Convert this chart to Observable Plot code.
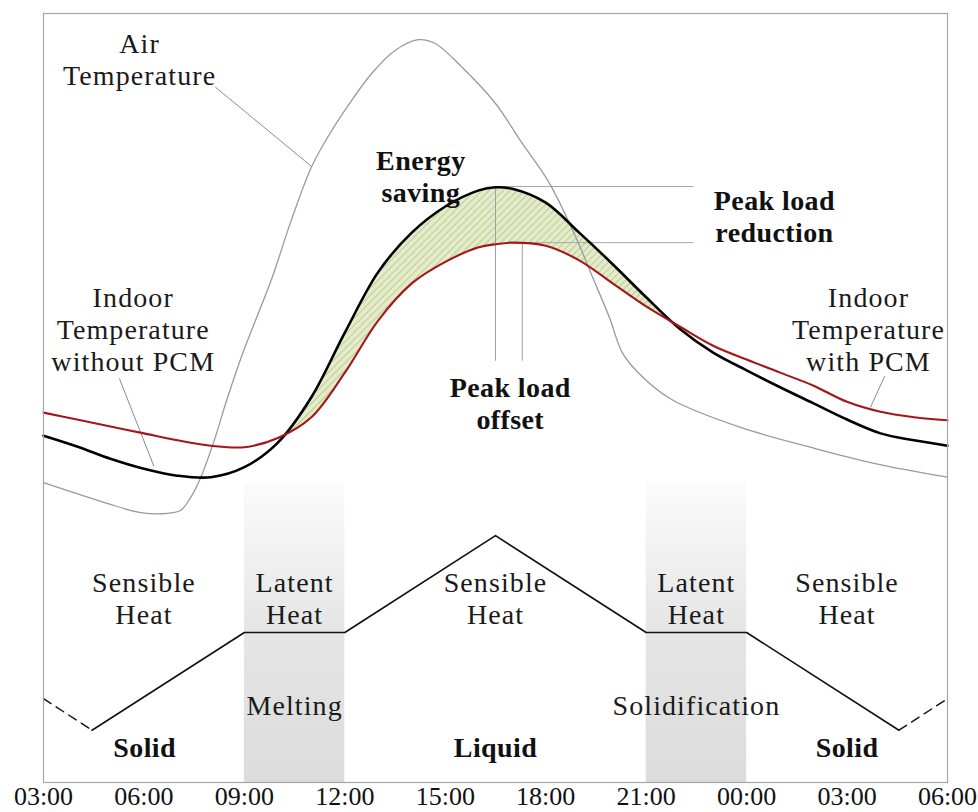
<!DOCTYPE html>
<html>
<head>
<meta charset="utf-8">
<script src="https://cdn.jsdelivr.net/npm/d3@7"></script>
<script src="https://cdn.jsdelivr.net/npm/@observablehq/plot@0.6"></script>
<style>
  body { margin: 0; background: #ffffff; }
  #chart { width: 978px; height: 812px; }
</style>
</head>
<body>
<div id="chart"></div>
<script>
// ---------- data (hours counted from 00:00 of day 1; values in relative units 0-100) ----------
const tickHours  = [3, 6, 9, 12, 15, 18, 21, 24, 27, 30];
const tickLabels = ["03:00","06:00","09:00","12:00","15:00","18:00","21:00","00:00","03:00","06:00"];

// Air temperature (thin grey)
const airHours = [3.0, 3.9, 4.9, 5.9, 6.7, 7.1, 7.4, 7.7, 8.1, 8.5, 9.0, 9.8, 10.4, 11.0, 11.5, 12.0, 12.8, 13.5, 14.2, 14.7, 15.5, 16.5, 17.3, 18.1, 18.9, 19.4, 19.9, 20.3, 20.9, 21.8, 23.8, 25.9, 27.8, 30.0];
const airTemp  = [39.0, 37.7, 36.3, 35.1, 35.0, 35.4, 37.1, 39.7, 44.5, 50.1, 56.4, 65.3, 73.1, 80.0, 84.0, 87.4, 92.2, 95.2, 96.6, 96.1, 93.0, 88.3, 83.1, 78.0, 70.9, 65.7, 60.5, 55.8, 52.7, 49.7, 46.2, 43.6, 41.5, 39.7];

// Indoor temperatures
const indoorHours = [3, 4, 5, 6, 7, 8, 9, 10, 11, 12, 13, 14, 15, 16, 16.5, 17, 18, 19, 20, 21, 22, 23, 24, 25, 26, 27, 28, 29, 30];
const withoutPCM  = [45.1, 43.7, 42.1, 40.8, 39.9, 39.7, 41.0, 44.2, 50.1, 58.5, 66.4, 71.5, 74.9, 77.0, 77.4, 77.2, 75.4, 71.5, 67.4, 63.1, 59.0, 55.9, 53.6, 51.4, 49.3, 47.2, 45.4, 44.5, 43.8];
const withPCM     = [48.1, 47.2, 46.3, 45.4, 44.5, 43.8, 43.6, 44.8, 47.5, 53.3, 60.1, 64.9, 67.7, 69.6, 70.0, 70.2, 69.8, 67.9, 64.9, 61.9, 59.3, 56.8, 55.0, 53.3, 51.6, 49.5, 48.2, 47.5, 47.1];
const savingFrom = 10.19, savingTo = 21.8;   // hours where the two indoor curves cross

// PCM phase state line
const phaseHours = [3, 4.45, 9, 12, 16.5, 21, 24, 28.55, 30];
const phaseLevel = [10.9, 6.8, 19.5, 19.5, 32.1, 19.5, 19.5, 6.8, 10.9];

// Latent heat bands
const bandFrom = [9, 21];
const bandTo   = [12, 24];
const bandTop  = 38.9;

// Peak markers
const peakNoPCM = {hour: 16.5, value: 77.5};
const peakPCM   = {hour: 17.3, value: 70.2};
const peakLineEnd = 22.4;
const offsetLineBottom = 54.9;

// Leader lines [hour1, value1, hour2, value2]
const leaderAir     = [8.14, 90.4, 11.01, 80.1];
const leaderWithout = [5.27, 52.5, 6.29, 41.2];
const leaderWith    = [28.12, 52.8, 27.7, 48.8];

// Labels
const plainLabels = [
  {text: "Air\nTemperature", hour: 5.87, value: 94.1},
  {text: "Indoor\nTemperature\nwithout PCM", hour: 5.68, value: 59.0},
  {text: "Indoor\nTemperature\nwith PCM", hour: 27.64, value: 59.0},
  {text: "Sensible\nHeat", hour: 6.0, value: 24.0},
  {text: "Latent\nHeat", hour: 10.5, value: 24.0},
  {text: "Sensible\nHeat", hour: 16.5, value: 24.0},
  {text: "Latent\nHeat", hour: 22.5, value: 24.0},
  {text: "Sensible\nHeat", hour: 27.0, value: 24.0},
  {text: "Melting", hour: 10.5, value: 10.1},
  {text: "Solidification", hour: 22.5, value: 10.1}
];
const boldLabels = [
  {text: "Energy\nsaving", hour: 14.27, value: 78.9},
  {text: "Peak load\nreduction", hour: 24.83, value: 73.7},
  {text: "Peak load\noffset", hour: 16.94, value: 49.4},
  {text: "Solid", hour: 6.02, value: 4.6},
  {text: "Liquid", hour: 16.5, value: 4.6},
  {text: "Solid", hour: 27.0, value: 4.6}
];

// ---------- build tables ----------
const air = airHours.map((h, i) => ({h, v: airTemp[i]}));
const indoor = indoorHours.map((h, i) => ({h, a: withoutPCM[i], b: withPCM[i]}));
const phase = phaseHours.map((h, i) => ({h, v: phaseLevel[i]}));
const bands = bandFrom.map((f, i) => ({x1: f, x2: bandTo[i]}));
const labelByHour = new Map(tickHours.map((h, i) => [h, tickLabels[i]]));

const FONT = "'Liberation Serif', 'Times New Roman', serif";
const FS = 28;
const LH = 32 / 28;

const seg = (arr) => [{h: arr[0], v: arr[1]}, {h: arr[2], v: arr[3]}];

const chart = Plot.plot({
  width: 978,
  height: 812,
  marginTop: 13,
  marginRight: 31,
  marginBottom: 30,
  marginLeft: 43,
  style: {fontFamily: FONT, fontSize: "26px", color: "#111", background: "#ffffff", overflow: "visible"},
  x: {domain: [3, 30], ticks: tickHours, tickFormat: d => labelByHour.get(d), tickSize: 0, tickPadding: 4, label: null},
  y: {domain: [0, 100], axis: null},
  marks: [
    Plot.rect(bands, {x1: "x1", x2: "x2", y1: 0, y2: bandTop, fill: "url(#bandGrad)"}),
    Plot.areaY(indoor, {x: "h", y1: "b", y2: "a", curve: "catmull-rom", fill: "url(#hatch)"}),
    // peak lines
    Plot.line([{h: peakNoPCM.hour, v: peakNoPCM.value}, {h: peakLineEnd, v: peakNoPCM.value}], {x: "h", y: "v", stroke: "#a8a8a8", strokeWidth: 1}),
    Plot.line([{h: peakPCM.hour, v: peakPCM.value}, {h: peakLineEnd, v: peakPCM.value}], {x: "h", y: "v", stroke: "#a8a8a8", strokeWidth: 1}),
    Plot.line([{h: peakNoPCM.hour, v: peakNoPCM.value}, {h: peakNoPCM.hour, v: offsetLineBottom}], {x: "h", y: "v", stroke: "#a0a0a0", strokeWidth: 1}),
    Plot.line([{h: peakPCM.hour, v: peakPCM.value}, {h: peakPCM.hour, v: offsetLineBottom}], {x: "h", y: "v", stroke: "#a0a0a0", strokeWidth: 1}),
    // leaders
    Plot.line(seg(leaderAir), {x: "h", y: "v", stroke: "#8c8c8c", strokeWidth: 1}),
    Plot.line(seg(leaderWithout), {x: "h", y: "v", stroke: "#8c8c8c", strokeWidth: 1}),
    Plot.line(seg(leaderWith), {x: "h", y: "v", stroke: "#8c8c8c", strokeWidth: 1}),
    // air temperature
    Plot.line(air, {x: "h", y: "v", curve: "catmull-rom", stroke: "#9a9a9a", strokeWidth: 1.3}),
    // phase state
    Plot.line(phase.slice(0, 2), {x: "h", y: "v", stroke: "#111", strokeWidth: 1.4, strokeDasharray: "9,6"}),
    Plot.line(phase.slice(1, 8), {x: "h", y: "v", stroke: "#111", strokeWidth: 1.6}),
    Plot.line(phase.slice(7), {x: "h", y: "v", stroke: "#111", strokeWidth: 1.4, strokeDasharray: "9,6"}),
    // indoor temps
    Plot.line(indoor, {x: "h", y: "a", curve: "catmull-rom", stroke: "#000", strokeWidth: 2.6}),
    Plot.line(indoor, {x: "h", y: "b", curve: "catmull-rom", stroke: "#a3161a", strokeWidth: 2.1}),
    Plot.frame({stroke: "#a6a6a6", strokeWidth: 1.2}),
    // text
    Plot.text(plainLabels, {x: "hour", y: "value", text: "text", fontFamily: FONT, fontSize: FS, lineHeight: LH, fill: "#1a1a1a"}),
    Plot.text(boldLabels, {x: "hour", y: "value", text: "text", fontFamily: FONT, fontSize: FS, fontWeight: "bold", lineHeight: LH, fill: "#111"})
  ]
});

// pattern, gradient and clip definitions
const xs = chart.scale("x");
const defs = d3.select(chart).insert("defs", ":first-child");
const pat = defs.append("pattern").attr("id", "hatch").attr("patternUnits", "userSpaceOnUse")
  .attr("width", 5).attr("height", 5).attr("patternTransform", "rotate(45)");
pat.append("rect").attr("width", 5).attr("height", 5).attr("fill", "#e3ebc9");
pat.append("line").attr("x1", 0).attr("y1", 0).attr("x2", 0).attr("y2", 5).attr("stroke", "#a9bc80").attr("stroke-width", 1.3);
const grad = defs.append("linearGradient").attr("id", "bandGrad").attr("x1", 0).attr("y1", 0).attr("x2", 0).attr("y2", 1);
grad.append("stop").attr("offset", "0%").attr("stop-color", "#fbfbfb");
grad.append("stop").attr("offset", "50%").attr("stop-color", "#e5e5e5");
grad.append("stop").attr("offset", "100%").attr("stop-color", "#dcdcdc");
const x0 = xs.apply(savingFrom), x1 = xs.apply(savingTo);
defs.append("clipPath").attr("id", "savingClip")
  .append("rect").attr("x", x0).attr("y", 0).attr("width", x1 - x0).attr("height", 812);
d3.select(chart).select('g[aria-label="area"]').attr("clip-path", "url(#savingClip)");

// slight tracking on the annotation texts to match the reference type width
const textGroups = d3.select(chart).selectAll('g[aria-label="text"]').nodes();
if (textGroups[0]) textGroups[0].setAttribute("letter-spacing", "1.1");
if (textGroups[1]) textGroups[1].setAttribute("letter-spacing", "0.4");

document.getElementById("chart").appendChild(chart);
</script>
</body>
</html>
